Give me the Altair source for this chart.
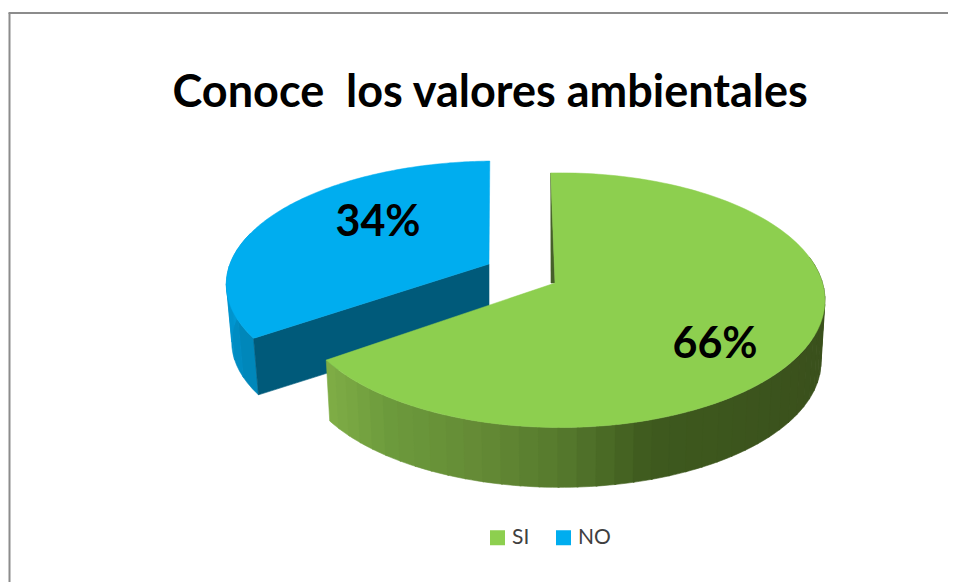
import numpy as np
import pandas as pd
import altair as alt

title_text = "Conoce \u00a0los valores ambientales"
series = ["SI", "NO"]
shares = [66, 34]
top_colors = ["#8DCF4F", "#00ADEF"]
label_x = [715, 378]
label_y = [345, 223]

green_side_x = [325, 390, 480, 560, 650, 830]
green_side_c = [(128, 174, 70), (108, 154, 60), (100, 138, 53), (86, 122, 45), (62, 90, 30), (58, 80, 28)]

W, H = 940, 574


def pt(theta_deg, g, scale=1.0, dy=0.0):
    t = np.radians(theta_deg)
    u, v = np.sin(t), -np.cos(t)
    d = 1 - g["p"] * v
    return g["cx"] + g["ox"] + scale * g["B"] * u / d, g["cy"] + dy + scale * g["A"] * v / d


green = dict(cx=555, ox=5, cy=283, A=125, B=262.5, p=0.135, start=-2.3, depth=62, sc=0.985)
blue = dict(cx=489, ox=8, cy=264, A=120, B=267, p=0.165, start=-1.8, depth=58, sc=0.98)

span_g = shares[0] * 3.6
span_b = shares[1] * 3.6
g0, g1 = green["start"], green["start"] + span_g
b1 = blue["start"] + 360
b0 = b1 - span_b


def poly(rows, pid, pts, color, serie=None):
    for i, (x, y) in enumerate(pts):
        rows.append(dict(id=pid, i=i, x=float(x), y=float(y), c=color, serie=serie))


def hexc(rgb):
    return "#%02x%02x%02x" % tuple(int(round(c)) for c in rgb)


def band(rows, pid, g, a, b, color):
    ths = np.linspace(a, b, 4)
    top = [pt(t, g) for t in ths]
    bot = [pt(t, g, g["sc"], g["depth"]) for t in ths[::-1]]
    poly(rows, pid, top + bot, color)


def wedge(rows, pid, g, a, b, color, serie):
    ths = np.linspace(a, b, 160)
    poly(rows, pid, [(g["cx"], g["cy"])] + [pt(t, g) for t in ths], color, serie)


# blue slice
blue_back = []
edges = np.linspace(b0, 285, 7)
shades = ["#0087BA", "#008CC2", "#0090C8", "#0094CE", "#0098D3", "#009CD8"]
for k in range(6):
    band(blue_back, f"bs{k}", blue, edges[k], edges[k + 1] + 0.4, shades[k])
a = pt(b0, blue)
poly(blue_back, "cut", [(blue["cx"], blue["cy"]), a, pt(b0, blue, blue["sc"], blue["depth"]),
                        (blue["cx"], blue["cy"] + blue["depth"])], "#005A7A")

# green slice sides
green_back = []
edges = np.linspace(g1, 78, 44)
for k in range(len(edges) - 1):
    mid_x = pt((edges[k] + edges[k + 1]) / 2, green)[0]
    col = [np.interp(mid_x, green_side_x, [c[j] for c in green_side_c]) for j in range(3)]
    band(green_back, f"gs{k}", green, edges[k], edges[k + 1] - 0.3, hexc(col))
s = pt(g0, green)
poly(green_back, "sliver", [s, (green["cx"] - 4, green["cy"]), (green["cx"], green["cy"])], "#46602A")

tops_b, tops_g = [], []
wedge(tops_b, "tb", blue, b0, b1, top_colors[1], series[1])
wedge(tops_g, "tg", green, g0, g1, top_colors[0], series[0])

xs = alt.Scale(domain=[8, 948], range=[0, W])
ys = alt.Scale(domain=[582, 8], range=[H, 0])
X = alt.X("x:Q", scale=xs, axis=None)
Y = alt.Y("y:Q", scale=ys, axis=None)


def back(rows):
    return alt.Chart(pd.DataFrame(rows)).mark_line(filled=True, strokeWidth=0.6, interpolate="linear-closed").encode(
        x=X, y=Y, order="i:Q", detail="id:N",
        fill=alt.Fill("c:N", scale=None), stroke=alt.Stroke("c:N", scale=None),
    )


def top(rows, legend):
    return alt.Chart(pd.DataFrame(rows)).mark_line(filled=True, strokeWidth=0.5, interpolate="linear-closed").encode(
        x=X, y=Y, order="i:Q", detail="id:N",
        fill=alt.Fill("serie:N", scale=alt.Scale(domain=series, range=top_colors), legend=legend),
        stroke=alt.Stroke("serie:N", scale=alt.Scale(domain=series, range=top_colors), legend=None),
    )


legend = alt.Legend(
    orient="none", legendX=479, legendY=519, direction="horizontal", title=None,
    symbolType="square", symbolSize=225, symbolStrokeWidth=0, labelFont="Lato", labelFontSize=21,
    labelColor="#404040", columnPadding=23, labelOffset=4, values=series,
)

labels = pd.DataFrame({"x": label_x, "y": label_y, "t": [f"{v}%" for v in shares]})
text = alt.Chart(labels).mark_text(font="Lato", fontWeight="bold", fontSize=43, color="black", baseline="middle").encode(
    x=X, y=Y, text="t:N"
)

left_rule = alt.Chart(pd.DataFrame({"x": [9.5], "y": [13], "y2": [582]})).mark_rule(color="#8C8C8C", strokeWidth=2).encode(
    x=X, y=Y, y2="y2:Q"
)
top_rule = alt.Chart(pd.DataFrame({"x": [8.5], "x2": [948], "y": [13]})).mark_rule(color="#8C8C8C", strokeWidth=2).encode(
    x=X, x2="x2:Q", y=Y
)

chart = alt.layer(
    left_rule, top_rule, back(blue_back), top(tops_b, legend), back(green_back), top(tops_g, None), text
).resolve_scale(fill="independent", stroke="independent").properties(
    width=W, height=H, padding=0, autosize=alt.AutoSizeParams(type="none"), background="white",
    title=alt.Title(title_text, font="Lato", fontWeight="bold", fontSize=45, color="black", anchor="start",
                    offset=-108, dx=165),
).configure_view(stroke=None)

chart.save("out.html", embed_options={"renderer": "svg", "actions": False})
